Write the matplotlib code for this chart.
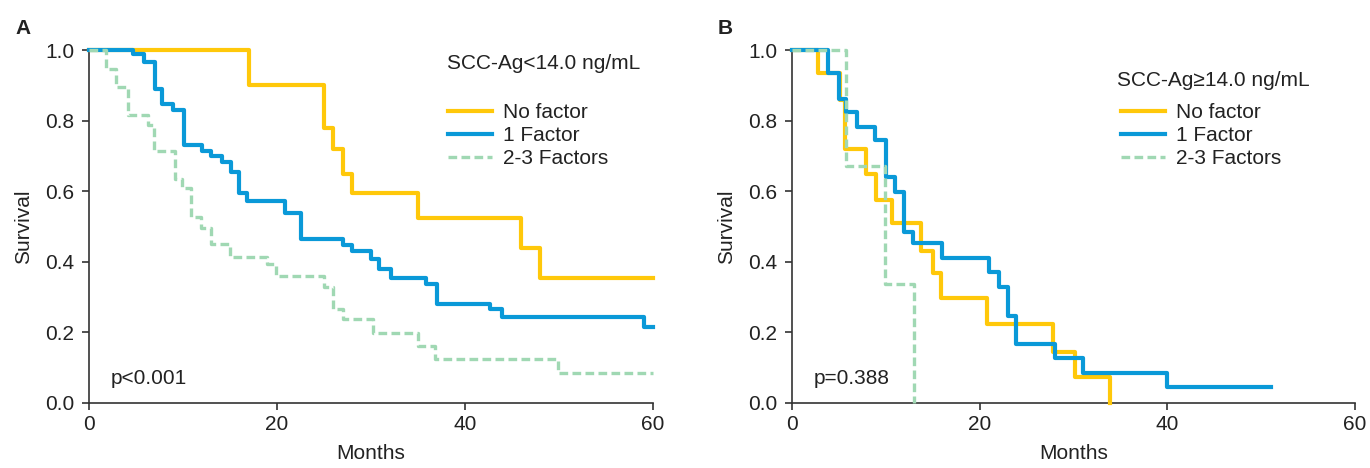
import matplotlib
matplotlib.use("Agg")
import matplotlib.pyplot as plt

plt.rcParams['font.family'] = ['Liberation Sans', 'DejaVu Sans']

# Panel A: SCC-Ag < 14.0 ng/mL
a_none_t = [0, 17, 25, 26, 27, 28, 35, 46, 48, 60]
a_none_s = [1.0, 0.90, 0.78, 0.72, 0.65, 0.595, 0.523, 0.44, 0.354, 0.354]

a_one_t = [0, 4.7, 5.9, 7.0, 7.8, 8.9, 10.1, 12, 13, 14.1, 15.1, 16, 16.8, 20.9, 22.5,
           27, 28, 30, 30.9, 32.1, 35.9, 37, 42.7, 43.9, 59, 60]
a_one_s = [1.0, 0.988, 0.966, 0.89, 0.847, 0.83, 0.731, 0.715, 0.70, 0.684, 0.655, 0.595,
           0.573, 0.538, 0.464, 0.448, 0.431, 0.407, 0.379, 0.355, 0.337, 0.28, 0.266,
           0.244, 0.216, 0.216]

a_multi_t = [0, 1.8, 2.9, 4.1, 6.3, 6.9, 9.1, 9.9, 10.9, 11.9, 13, 15, 18.9, 19.9, 25,
             26, 27, 30.2, 35, 36.8, 49.9, 60]
a_multi_s = [1.0, 0.946, 0.895, 0.816, 0.788, 0.715, 0.635, 0.609, 0.528, 0.496, 0.45,
             0.414, 0.393, 0.36, 0.328, 0.266, 0.238, 0.198, 0.161, 0.125, 0.085, 0.085]

# Panel B: SCC-Ag >= 14.0 ng/mL
b_none_t = [0, 2.8, 5.1, 5.7, 7.9, 9.0, 10.7, 13.8, 15.0, 15.9, 20.8, 27.8, 30.2, 33.9]
b_none_s = [1.0, 0.936, 0.858, 0.72, 0.65, 0.575, 0.51, 0.43, 0.368, 0.297, 0.224,
            0.145, 0.075, 0.0]

b_one_t = [0, 3.8, 5.0, 5.8, 6.9, 8.8, 10.0, 11.0, 11.9, 12.9, 16.0, 21.0, 22.1, 23.0,
           23.9, 28.0, 31.0, 40.0, 51.0]
b_one_s = [1.0, 0.935, 0.861, 0.825, 0.783, 0.745, 0.64, 0.599, 0.485, 0.454, 0.41,
           0.37, 0.33, 0.247, 0.166, 0.128, 0.086, 0.046, 0.046]

b_multi_t = [0, 5.8, 9.9, 13.0]
b_multi_s = [1.0, 0.67, 0.337, 0.0]

labels = ["No factor", "1 Factor", "2-3 Factors"]
x_ticks = [0, 20, 40, 60]
y_ticks = [0.0, 0.2, 0.4, 0.6, 0.8, 1.0]

c_yellow = "#FFC80A"
c_blue = "#0A99D8"
c_green = "#A0D8B3"
c_text = "#222222"
FS = 15

fig = plt.figure(figsize=(13.7, 4.68), dpi=100)
axA = fig.add_axes([89/1370, 1-403/468, 564/1370, 353/468])
axB = fig.add_axes([792/1370, 1-403/468, 563/1370, 353/468])

def panel(ax, none, one, multi, title, ptext, legx, titlex, titley):
    l1, = ax.step(none[0], none[1], where='post', color=c_yellow, lw=3, clip_on=False, zorder=3)
    l2, = ax.step(one[0], one[1], where='post', color=c_blue, lw=3, clip_on=False, zorder=4)
    l3, = ax.step(multi[0], multi[1], where='post', color=c_green, lw=2.4, ls=(0, (2.6, 1.3)),
                  clip_on=False, zorder=5)
    ax.set_xlim(0, 60)
    ax.set_ylim(0, 1)
    ax.set_xticks(x_ticks)
    ax.set_yticks(y_ticks)
    ax.set_yticklabels([f"{v:.1f}" for v in y_ticks])
    for s in ['top', 'right']:
        ax.spines[s].set_visible(False)
    for s in ['left', 'bottom']:
        ax.spines[s].set_linewidth(1.2)
        ax.spines[s].set_color('#333333')
    ax.tick_params(direction='out', length=5, width=1.2, labelsize=FS, color='#333333',
                   labelcolor=c_text)
    ax.tick_params(axis='x', pad=3.5)
    ax.tick_params(axis='y', pad=5.5)
    ax.set_xlabel("Months", fontsize=FS, color=c_text, labelpad=7)
    ax.set_ylabel("Survival", fontsize=FS, color=c_text, labelpad=9)
    ax.text(2.3, 0.07, ptext, fontsize=FS, color=c_text, va='center', ha='left')
    ax.text(titlex, titley, title, transform=ax.transAxes, fontsize=FS,
            color=c_text, va='center', ha='left')
    ax.legend([l1, l2, l3], labels, loc='upper left', bbox_to_anchor=(legx, 0.849),
              frameon=False, fontsize=FS, handlelength=2.1, handletextpad=0.55,
              labelspacing=0.18, borderpad=0, borderaxespad=0, labelcolor=c_text)

panel(axA, (a_none_t, a_none_s), (a_one_t, a_one_s), (a_multi_t, a_multi_s),
      "SCC-Ag<14.0 ng/mL", "p<0.001", 0.637, 0.634, 0.963)
panel(axB, (b_none_t, b_none_s), (b_one_t, b_one_s), (b_multi_t, b_multi_s),
      "SCC-Ag≥14.0 ng/mL", "p=0.388", 0.584, 0.577, 0.915)

fig.text(15/1370, 1-29/468, "A", fontsize=15, fontweight='bold', color=c_text,
         va='center', ha='left')
fig.text(718/1370, 1-29/468, "B", fontsize=15, fontweight='bold', color=c_text,
         va='center', ha='left')

fig.savefig("out.png", dpi=100)
